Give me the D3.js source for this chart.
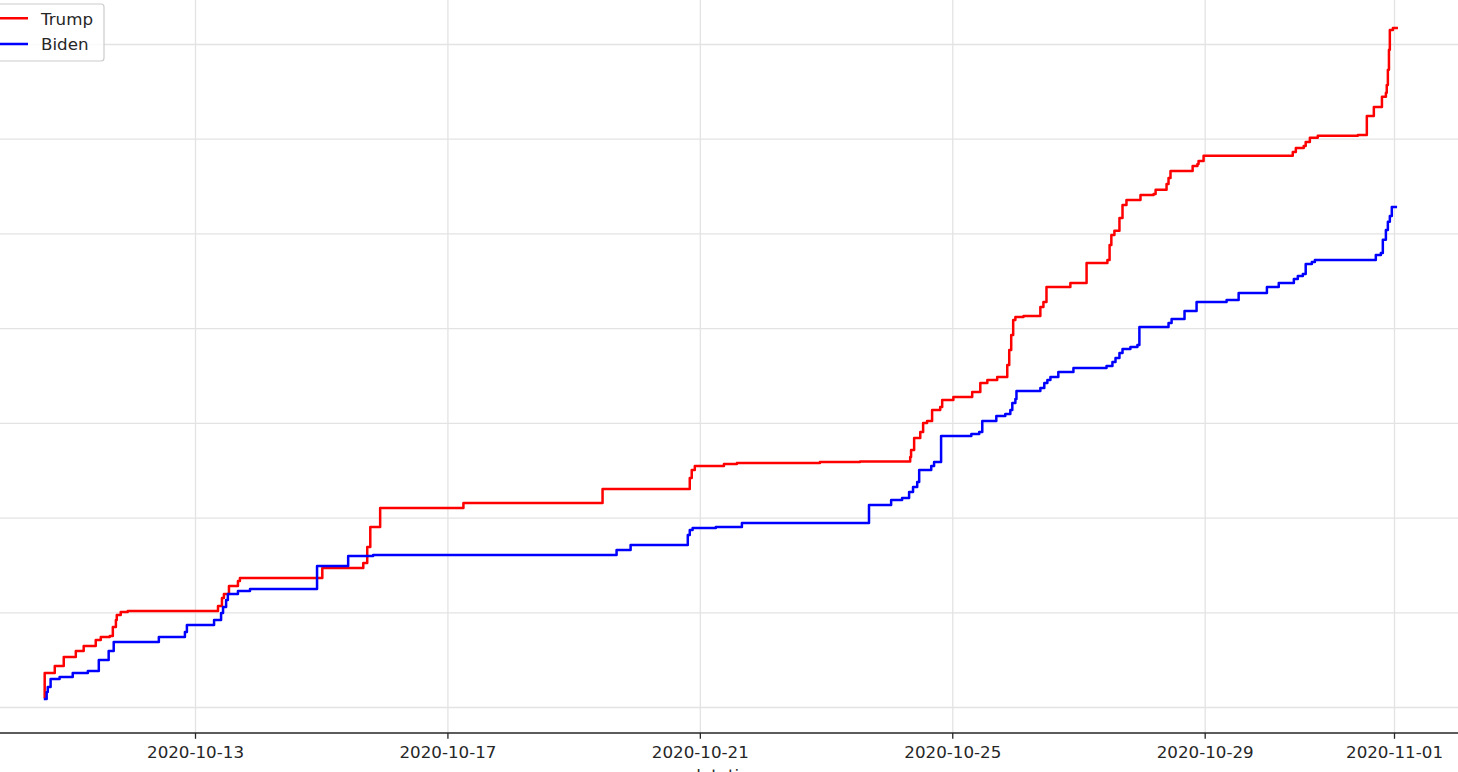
<!DOCTYPE html>
<html>
<head>
<meta charset="utf-8">
<script src="https://cdn.jsdelivr.net/npm/d3@7"></script>
<style>
  html, body { margin: 0; padding: 0; background: #fff; overflow: hidden; }
  svg { display: block; font-family: "DejaVu Sans", sans-serif; }
</style>
</head>
<body>
<svg id="chart" width="1458" height="772"></svg>
<script>
// ---------- data ----------
const seriesNames = ["Trump", "Biden"];
const seriesColors = ["#ff0000", "#0000ff"];

const xTickLabels = ["2020-10-13", "2020-10-17", "2020-10-21", "2020-10-25", "2020-10-29", "2020-11-01"];
const yTickValues = [0, 1000, 2000, 3000, 4000, 5000, 6000, 7000];
const xAxisLabel = "datetime";

const trumpTimes = [
  "2020-10-10 14:30","2020-10-10 14:50","2020-10-10 18:40","2020-10-10 22:05","2020-10-11 02:40",
  "2020-10-11 05:40","2020-10-11 10:15","2020-10-11 12:10","2020-10-11 15:35","2020-10-11 16:45",
  "2020-10-11 17:55","2020-10-11 18:15","2020-10-11 19:45","2020-10-11 22:25","2020-10-13 08:45",
  "2020-10-13 10:15","2020-10-13 11:00","2020-10-13 12:55","2020-10-13 16:20","2020-10-13 17:05",
  "2020-10-15 00:25","2020-10-15 16:00","2020-10-15 17:30","2020-10-15 18:40","2020-10-15 22:25",
  "2020-10-17 06:05","2020-10-19 11:00","2020-10-20 20:10","2020-10-20 20:55","2020-10-20 22:05",
  "2020-10-21 09:10","2020-10-21 14:05","2020-10-22 21:40","2020-10-23 12:55","2020-10-24 08:00",
  "2020-10-24 08:20","2020-10-24 09:30","2020-10-24 11:50","2020-10-24 12:55","2020-10-24 14:25",
  "2020-10-24 16:20","2020-10-24 19:25","2020-10-24 20:10","2020-10-25 00:25","2020-10-25 07:35",
  "2020-10-25 10:40","2020-10-25 13:20","2020-10-25 17:05","2020-10-25 20:55","2020-10-25 21:40",
  "2020-10-25 22:25","2020-10-25 23:10","2020-10-26 00:00","2020-10-26 03:05","2020-10-26 09:30",
  "2020-10-26 10:40","2020-10-26 11:50","2020-10-26 20:55","2020-10-27 03:05","2020-10-27 11:00",
  "2020-10-27 11:50","2020-10-27 12:30","2020-10-27 13:40","2020-10-27 15:35","2020-10-27 16:45",
  "2020-10-27 18:15","2020-10-27 23:35","2020-10-28 04:35","2020-10-28 05:20","2020-10-28 09:30",
  "2020-10-28 10:15","2020-10-28 11:00","2020-10-28 19:25","2020-10-28 21:15","2020-10-28 21:40",
  "2020-10-28 23:35","2020-10-30 09:30","2020-10-30 10:40","2020-10-30 13:40","2020-10-30 14:25",
  "2020-10-30 16:00","2020-10-30 19:00","2020-10-31 10:15","2020-10-31 13:40","2020-10-31 16:20",
  "2020-10-31 19:25","2020-10-31 20:55","2020-10-31 21:15","2020-10-31 21:40","2020-10-31 22:05",
  "2020-10-31 22:25","2020-10-31 23:35","2020-11-01 01:30"
];
const trumpValues = [
  95, 359, 433, 528, 591,
  644, 708, 739, 750, 845,
  919, 972, 1003, 1014, 1067,
  1151, 1193, 1278, 1331, 1362,
  1468, 1521, 1690, 1901, 2101,
  2154, 2302, 2418, 2503, 2545,
  2566, 2577, 2587, 2592, 2640,
  2714, 2841, 2904, 2999, 3020,
  3136, 3168, 3242, 3274, 3326,
  3421, 3453, 3485, 3612, 3770,
  3928, 4087, 4118, 4129, 4224,
  4277, 4435, 4477, 4689, 4720,
  4879, 4984, 5027, 5164, 5301,
  5354, 5407, 5417, 5460, 5523,
  5586, 5660, 5713, 5734, 5766,
  5819, 5861, 5903, 5924, 5966,
  6009, 6030, 6040, 6241, 6336,
  6442, 6484, 6568, 6727, 6938,
  7149, 7170, 7170
];

const bidenTimes = [
  "2020-10-10 14:30","2020-10-10 15:35","2020-10-10 16:00","2020-10-10 17:05","2020-10-10 20:30",
  "2020-10-11 01:30","2020-10-11 07:15","2020-10-11 11:25","2020-10-11 15:10","2020-10-11 17:05",
  "2020-10-12 10:15","2020-10-12 20:10","2020-10-12 20:55","2020-10-13 07:15","2020-10-13 09:55",
  "2020-10-13 10:40","2020-10-13 11:50","2020-10-13 12:30","2020-10-13 16:20","2020-10-13 20:55",
  "2020-10-14 22:25","2020-10-15 10:15","2020-10-15 19:45","2020-10-19 16:20","2020-10-19 21:40",
  "2020-10-20 19:25","2020-10-20 20:10","2020-10-20 21:15","2020-10-21 06:05","2020-10-21 16:00",
  "2020-10-23 16:20","2020-10-24 00:45","2020-10-24 04:55","2020-10-24 07:35","2020-10-24 09:05",
  "2020-10-24 10:40","2020-10-24 11:25","2020-10-24 16:00","2020-10-24 17:05","2020-10-24 19:45",
  "2020-10-25 07:15","2020-10-25 10:15","2020-10-25 11:25","2020-10-25 16:45","2020-10-25 20:10",
  "2020-10-25 22:05","2020-10-25 22:50","2020-10-26 00:00","2020-10-26 00:25","2020-10-26 09:30",
  "2020-10-26 11:00","2020-10-26 12:10","2020-10-26 13:20","2020-10-26 16:20","2020-10-26 22:05",
  "2020-10-27 10:40","2020-10-27 12:55","2020-10-27 14:05","2020-10-27 15:35","2020-10-27 16:45",
  "2020-10-27 19:45","2020-10-27 22:25","2020-10-27 23:10","2020-10-28 10:15","2020-10-28 11:25",
  "2020-10-28 16:20","2020-10-28 20:55","2020-10-29 08:20","2020-10-29 12:55","2020-10-29 23:40",
  "2020-10-30 04:10","2020-10-30 09:55","2020-10-30 11:25","2020-10-30 13:20","2020-10-30 14:25",
  "2020-10-30 16:45","2020-10-30 17:55","2020-10-31 17:05","2020-10-31 19:00","2020-10-31 19:45",
  "2020-10-31 20:55","2020-10-31 21:40","2020-10-31 22:25","2020-10-31 23:10","2020-11-01 01:10"
];
const bidenValues = [
  84, 158, 211, 296, 317,
  359, 380, 496, 591, 686,
  739, 792, 866, 919, 993,
  1056, 1130, 1193, 1225, 1246,
  1489, 1595, 1605, 1658, 1711,
  1816, 1869, 1890, 1901, 1943,
  2133, 2186, 2207, 2270, 2323,
  2376, 2503, 2545, 2587, 2862,
  2883, 2904, 3020, 3073, 3094,
  3136, 3210, 3252, 3337, 3369,
  3421, 3453, 3485, 3538, 3580,
  3601, 3643, 3685, 3738, 3780,
  3802, 3823, 4013, 4055, 4097,
  4182, 4277, 4298, 4372, 4435,
  4477, 4520, 4551, 4572, 4678,
  4699, 4720, 4773, 4794, 4932,
  5037, 5122, 5185, 5280, 5280
];

// ---------- chart ----------
const W = 1458, H = 772;
const parseT = d3.utcParse("%Y-%m-%d %H:%M");
const parseD = d3.utcParse("%Y-%m-%d");

const axisY = 733;
const x = d3.scaleUtc()
  .domain([parseD("2020-10-13"), parseD("2020-11-01")])
  .range([195, 1394]);
const y = d3.scaleLinear()
  .domain([0, 7000])
  .range([707, 44]);

const svg = d3.select("#chart");
const fontSize = 16.7;

// horizontal gridlines
svg.append("g")
  .attr("class", "ygrid")
  .attr("transform", "translate(0,0)")
  .call(d3.axisLeft(y).tickValues(yTickValues).tickSize(-W).tickFormat(""))
  .call(g => g.select(".domain").remove())
  .call(g => g.selectAll("line").attr("stroke", "#e3e3e3").attr("stroke-width", 1.3));

// vertical gridlines
const xTickDates = xTickLabels.map(parseD);
svg.append("g")
  .attr("class", "xgrid")
  .attr("transform", `translate(0,${axisY})`)
  .call(d3.axisBottom(x).tickValues(xTickDates).tickSize(-axisY).tickFormat(""))
  .call(g => g.select(".domain").remove())
  .call(g => g.selectAll("line").attr("stroke", "#e3e3e3").attr("stroke-width", 1.3));

// lines
const series = [
  { name: seriesNames[0], color: seriesColors[0], data: trumpTimes.map((t, i) => ({ t: parseT(t), v: trumpValues[i] })) },
  { name: seriesNames[1], color: seriesColors[1], data: bidenTimes.map((t, i) => ({ t: parseT(t), v: bidenValues[i] })) }
];
const line = d3.line()
  .x(d => x(d.t))
  .y(d => y(d.v))
  .curve(d3.curveStepAfter);

// draw Biden first then Trump on top? In reference, Trump appears drawn first (blue over red at crossings)
[series[0], series[1]].forEach(s => {
  svg.append("path")
    .datum(s.data)
    .attr("fill", "none")
    .attr("stroke", s.color)
    .attr("stroke-width", 2.5)
    .attr("stroke-linejoin", "round")
    .attr("stroke-linecap", "butt")
    .attr("d", line);
});

// x axis
const xAxis = svg.append("g")
  .attr("transform", `translate(0,${axisY})`)
  .call(d3.axisBottom(x).tickValues(xTickDates).tickSize(5.8).tickPadding(7)
    .tickFormat((d, i) => xTickLabels[i]));
xAxis.select(".domain").attr("d", `M0,0H${W}`).attr("stroke", "#262626").attr("stroke-width", 1.3);
xAxis.selectAll(".tick line").attr("stroke", "#262626").attr("stroke-width", 1.3);
xAxis.selectAll(".tick text")
  .attr("fill", "#262626")
  .style("font-family", "DejaVu Sans")
  .style("font-size", fontSize + "px");

// x axis label (mostly cut off at bottom)
svg.append("text")
  .attr("x", 728)
  .attr("y", 781)
  .attr("text-anchor", "middle")
  .attr("fill", "#262626")
  .style("font-size", fontSize + "px")
  .text(xAxisLabel);

// legend
const legend = svg.append("g");
legend.append("rect")
  .attr("x", -12).attr("y", 4)
  .attr("width", 116).attr("height", 57)
  .attr("rx", 3)
  .attr("fill", "#fff").attr("fill-opacity", 0.8)
  .attr("stroke", "#cccccc").attr("stroke-width", 1.2);
series.forEach((s, i) => {
  const ly = 18.3 + i * 25.7;
  legend.append("line")
    .attr("x1", -12).attr("x2", 28)
    .attr("y1", ly).attr("y2", ly)
    .attr("stroke", s.color).attr("stroke-width", 2.5);
  legend.append("text")
    .attr("x", 41).attr("y", ly + 6.2)
    .attr("fill", "#262626")
    .style("font-size", fontSize + "px")
    .text(s.name);
});
</script>
</body>
</html>
